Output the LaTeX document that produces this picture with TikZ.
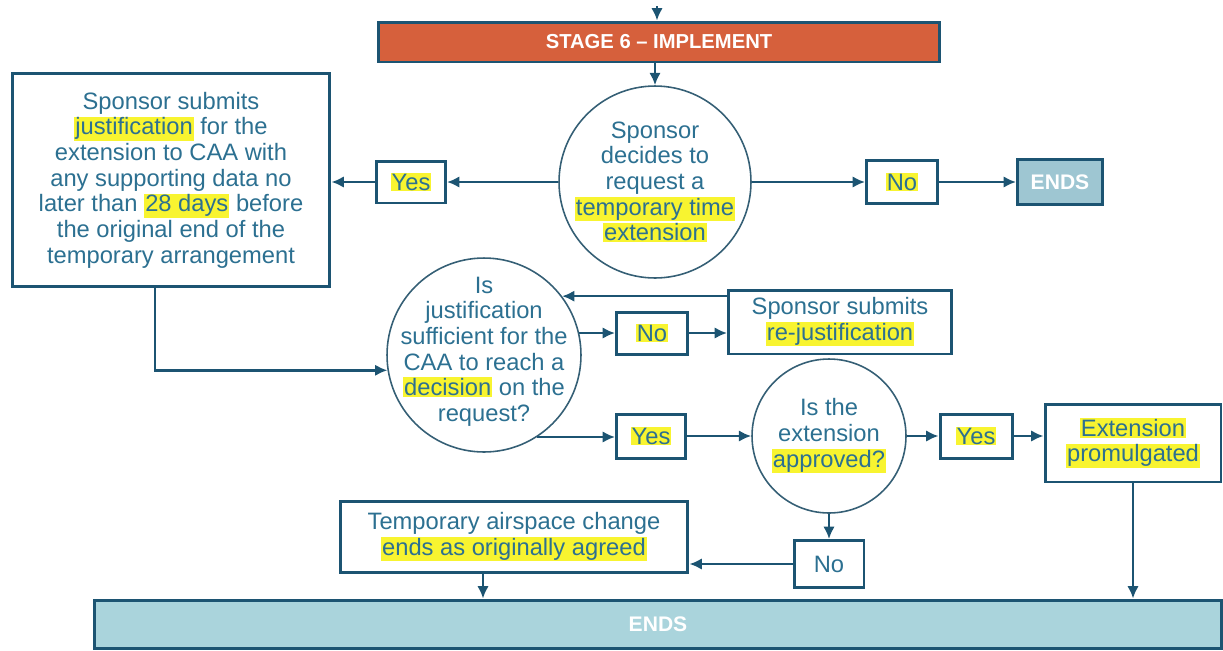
\documentclass[tikz,border=0pt]{standalone}
\usepackage{fontspec}
\setmainfont{Liberation Sans}
\usepackage{xcolor}
\usetikzlibrary{calc,positioning,arrows,arrows.meta,shapes}
\definecolor{lnc}{RGB}{28,84,114}
\definecolor{txc}{RGB}{44,112,145}
\definecolor{hly}{RGB}{248,244,48}
\definecolor{stc}{RGB}{214,96,60}
\definecolor{endc}{RGB}{158,198,210}
\definecolor{barc}{RGB}{170,212,220}
\newcommand{\hl}[1]{{\setlength{\fboxsep}{0.6pt}\colorbox{hly}{#1}}}

\begin{document}
\begin{tikzpicture}[x=0.02cm,y=-0.02cm]
\tikzstyle{box}=[draw=lnc, line width=1.7pt, fill=white, text=txc, align=center, inner sep=2pt, font=\fontsize{13.5}{14.6}\selectfont]
\tikzstyle{dec}=[draw=lnc!75!gray, line width=0.9pt, circle, inner sep=0pt]
\tikzstyle{txt}=[text=txc, align=center, inner sep=0pt, font=\fontsize{13.5}{14.6}\selectfont]
\tikzstyle{bar}=[draw=lnc, line width=1.7pt, text=white, font=\bfseries\fontsize{12}{14}\selectfont]
\tikzstyle{arr}=[draw=lnc, line width=1.5pt, -{Latex[length=7pt,width=6.5pt]}]

\useasboundingbox (0,0) rectangle (1223,650);

\node[bar, fill=stc, minimum width=11.24cm, minimum height=0.8cm, font=\bfseries\fontsize{11.5}{13}\selectfont] (stage) at (659,42) {STAGE 6 – IMPLEMENT};
\coordinate (top) at (657,6);
\draw[arr] (top) -- (top |- stage.north);

\node[dec, minimum size=3.84cm, label={[txt]center:{Sponsor\\ decides to\\ request a\\ \hl{temporary time}\\ \hl{extension}}}] (q1) at (655,182) {};
\draw[arr] (q1.north |- stage.south) -- (q1.north);

\node[box, minimum width=1.38cm, minimum height=0.84cm] (yes1) at (411,182) {\hl{Yes}};
\node[box, minimum width=6.36cm, minimum height=4.26cm] (sub) at (171,180) {Sponsor submits\\ \hl{justification} for the\\ extension to CAA with\\ any supporting data no\\ later than \hl{28 days} before\\ the original end of the\\ temporary arrangement};
\draw[arr] (q1.west) -- (yes1.east);
\draw[arr] (yes1.west) -- (yes1.west -| sub.east);

\node[box, minimum width=1.42cm, minimum height=0.86cm] (no1) at (902,182) {\hl{No}};
\node[bar, fill=endc, minimum width=1.7cm, minimum height=0.9cm] (end1) at (1060,182) {ENDS};
\draw[arr] (q1.east) -- (no1.west);
\draw[arr] (no1.east) -- (end1.west);

\node[dec, minimum size=3.88cm, label={[txt, yshift=2pt]center:{Is\\ justification\\ sufficient for the\\ CAA to reach a\\ \hl{decision} on the\\ request?}}] (q2) at (484,355) {};
\coordinate (c1) at ($(sub.south)+(-16,0)$);
\draw[arr] (c1) |- (q2.189);

\node[box, minimum width=1.42cm, minimum height=0.84cm] (no2) at (652,333) {\hl{No}};
\node[box, minimum width=4.46cm, minimum height=1.28cm] (rej) at (840,322) {Sponsor submits\\ \hl{re-justification}};
\draw[arr] (q2.13) -- (q2.13 -| no2.west);
\draw[arr] (no2.east) -- (no2.east -| rej.west);
\draw[arr] (rej.west |- q2.37) -- (q2.37);

\node[box, minimum width=1.38cm, minimum height=0.88cm] (yes2) at (651,436) {\hl{Yes}};
\node[dec, minimum size=3.08cm, label={[txt]center:{Is the\\ extension\\ \hl{approved?}}}] (q3) at (829,436) {};
\node[box, minimum width=1.44cm, minimum height=0.88cm] (yes3) at (976,436) {\hl{Yes}};
\node[box, minimum width=3.52cm, minimum height=1.56cm] (ext) at (1133,443) {\hl{Extension}\\ \hl{promulgated}};
\draw[arr] (q2.-57) -- (q2.-57 -| yes2.west);
\draw[arr] (yes2.east) -- (q3.west);
\draw[arr] (q3.east) -- (yes3.west);
\draw[arr] (yes3.east) -- (yes3.east -| ext.west);

\node[bar, fill=barc, minimum width=22.54cm, minimum height=0.96cm] (ends) at (658,624) {ENDS};
\draw[arr] (ext.south) -- (ext.south |- ends.north);

\node[box, minimum width=1.4cm, minimum height=0.94cm] (no3) at (829,564) {No};
\node[box, minimum width=6.96cm, minimum height=1.42cm] (tmp) at (514,537) {Temporary airspace change\\ \hl{ends as originally agreed}};
\draw[arr] (q3.south) -- (no3.north);
\draw[arr] (no3.west) -- (no3.west -| tmp.east);
\coordinate (c2) at ($(tmp.south)+(-31,0)$);
\draw[arr] (c2) -- (c2 |- ends.north);
\end{tikzpicture}
\end{document}
